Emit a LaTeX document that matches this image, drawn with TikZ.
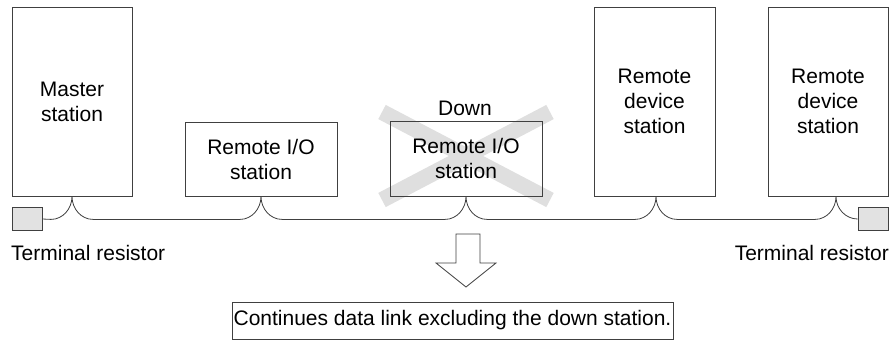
\documentclass[tikz,border=0pt]{standalone}
\usepackage{fontspec}
\setmainfont{Liberation Sans}
\usetikzlibrary{calc,backgrounds}
\definecolor{lineclr}{HTML}{404040}
\definecolor{resfill}{HTML}{E2E2E2}
\definecolor{crossclr}{HTML}{DFDFDF}
\begin{document}
\begin{tikzpicture}[x=1pt,y=-1pt,
  txt/.style={font=\fontsize{21}{25}\selectfont, align=center, text=black},
  stationbox/.style={txt, draw=lineclr, line width=0.8pt, rectangle, inner sep=0pt},
  resistor/.style={draw=lineclr, line width=0.8pt, fill=resfill, rectangle, inner sep=0pt, minimum width=30pt, minimum height=23pt},
  bus/.style={draw=lineclr, line width=0.8pt},
  xline/.style={draw=crossclr, line width=16pt},
  label/.style={txt, inner sep=0pt}]
\useasboundingbox (0,0) rectangle (892,340);

% stations
\node[stationbox, minimum width=120pt, minimum height=189pt] (master) at (72,101.5) {Master\\station};
\node[stationbox, minimum width=152pt, minimum height=74pt] (rio) at (261,159) {Remote I/O\\station};
\node[stationbox, minimum width=152pt, minimum height=75pt] (down) at (466,158.5) {Remote I/O\\station};
\node[stationbox, minimum width=121pt, minimum height=189pt] (rd1) at (654.5,101.5) {Remote\\device\\station};
\node[stationbox, minimum width=120pt, minimum height=189pt] (rd2) at (828,101.5) {Remote\\device\\station};

% cross over the down station
\begin{scope}[on background layer]
  \draw[xline] ($(down.center)+(-84,-46.5)$) -- ($(down.center)+(84,41.5)$);
  \draw[xline] ($(down.center)+(84,-46.5)$) -- ($(down.center)+(-84,41.5)$);
\end{scope}

\node[label, anchor=base] (downlbl) at (465,115) {Down};

% terminal resistors
\node[resistor] (tr1) at (27,219) {};
\node[resistor] (tr2) at (873,219) {};
\node[label, anchor=base west] (trl1) at (11,260) {Terminal resistor};
\node[label, anchor=base east] (trl2) at (889,260) {Terminal resistor};

% connection points
\coordinate (c1) at (master.south);
\coordinate (c2) at (rio.south);
\coordinate (c3) at (down.south);
\coordinate (c4) at ($(rd1.south)+(1.5,0)$);
\coordinate (c5) at ($(rd2.south)+(8,0)$);

% bus
\draw[bus] (tr1.east) -- ($(c1)+(-21,23)$)
  .. controls +(11.6,0) and +(0,12.7) .. (c1)
  .. controls +(0,12.7) and +(-11.6,0) .. ($(c1)+(21,23)$)
  -- ($(c2)+(-21,23)$)
  .. controls +(11.6,0) and +(0,12.7) .. (c2)
  .. controls +(0,12.7) and +(-11.6,0) .. ($(c2)+(21,23)$)
  -- ($(c3)+(-21,23)$)
  .. controls +(11.6,0) and +(0,12.7) .. (c3)
  .. controls +(0,12.7) and +(-11.6,0) .. ($(c3)+(21,23)$)
  -- ($(c4)+(-21,23)$)
  .. controls +(11.6,0) and +(0,12.7) .. (c4)
  .. controls +(0,12.7) and +(-11.6,0) .. ($(c4)+(21,23)$)
  -- ($(c5)+(-21,23)$)
  .. controls +(11.6,0) and +(0,12.7) .. (c5)
  .. controls +(0,12.7) and +(-11.6,0) .. (tr2.west);

% hollow down arrow
\draw[bus, fill=white] (456,234) -- (480,234) -- (480,263) -- (496,263) -- (466,287) -- (436,263) -- (456,263) -- cycle;

% result box
\node[stationbox, minimum width=441pt, minimum height=37pt] (result) at (452.5,320.5) {Continues data link excluding the down station.};
\end{tikzpicture}
\end{document}
